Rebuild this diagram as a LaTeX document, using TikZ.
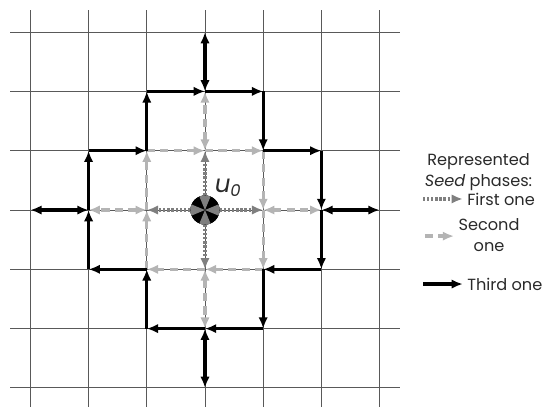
\documentclass[tikz,border=0pt]{standalone}
\usepackage{fontspec}
\setmainfont{Poppins}
\usetikzlibrary{arrows.meta}

\definecolor{gris1}{HTML}{7F7F7F}
\definecolor{gris2}{HTML}{B4B4B4}
\definecolor{texto}{HTML}{2A2A2A}

\begin{document}
\begin{tikzpicture}[
  x=1cm, y=1.019cm,
  >={Latex[length=5.5pt,width=4.6pt]},
  rejilla/.style={draw=black!65, line width=0.45pt},
  fase1/.style={draw=gris1, line width=1.6pt, dash pattern=on 1.1pt off 0.9pt, ->},
  fase2/.style={draw=gris2, line width=1.6pt, dash pattern=on 4pt off 2.6pt, ->},
  fase3/.style={draw=black, line width=1.5pt, ->},
  semilla/.style={circle, fill=black, inner sep=0pt, minimum size=5mm},
  leyenda/.style={text=texto, font=\fontsize{7.9}{10.4}\selectfont, inner sep=2pt}
]
  \useasboundingbox (-3.522,-3.305) rectangle (5.825,3.541);

  % Rejilla
  \foreach \k in {-3,...,3} {
    \draw[rejilla] (-3.35,\k) -- (3.35,\k);
    \draw[rejilla] (\k,-3.4) -- (\k,3.37);
  }

  % Puntos de la rejilla
  \foreach \i in {-3,...,3}
    \foreach \j in {-3,...,3}
      \coordinate (p\i\j) at (\i,\j);

  % Primera fase
  \node[semilla] (u0) at (p00) {};
  \foreach \b in {10,01,-10,0-1}
    \draw[fase1] (u0) -- (p\b);

  % Segunda fase
  \foreach \a/\b in {-11/01, 01/11, 11/10, 10/1-1, 1-1/0-1, 0-1/-1-1, -1-1/-10, -10/-11}
    \draw[fase2] (p\a) -- (p\b);
  \foreach \a/\b in {10/20, 01/02, -10/-20, 0-1/0-2}
    \draw[fase2, <->] (p\a) -- (p\b);

  % Tercera fase
  \foreach \a/\b in {-11/-12, -12/02, 02/12, 12/11, 11/21, 21/20, 20/2-1, 2-1/1-1,
                     1-1/1-2, 1-2/0-2, 0-2/-1-2, -1-2/-1-1, -1-1/-2-1, -2-1/-20, -20/-21, -21/-11}
    \draw[fase3] (p\a) -- (p\b);
  \foreach \a/\b in {20/30, 02/03, -20/-30, 0-2/0-3}
    \draw[fase3, <->] (p\a) -- (p\b);

  % Semilla u_0
  \node[semilla] at (u0) {};
  \foreach \a in {0,90,180,270}
    \fill[gris1] (u0.center) -- ++({\a-22.5}:2.5mm) arc[start angle=\a-22.5, end angle=\a+22.5, radius=2.5mm] -- cycle;
  \node[text=texto, font=\fontsize{12}{14}\selectfont] (lu0) at (0.40,0.38) {\textit{u\textsubscript{0}}};

  % Leyenda
  \node[leyenda, align=center] (titulo) at (4.70,0.64) {Represented\\\textit{Seed} phases:};
  \node[leyenda, anchor=west] (t1) at (4.43,0.186) {First one};
  \node[leyenda, align=center] (t2) at (4.88,-0.42) {Second\\one};
  \node[leyenda, anchor=west] (t3) at (4.43,-1.248) {Third one};
  \coordinate (c1) at (3.746,0.186);
  \coordinate (c2) at (3.78,-0.44);
  \coordinate (c3) at (3.746,-1.248);
  \draw[fase1] (c1) -- (t1.west);
  \draw[fase2] (c2) -- (c2 -| t2.west);
  \draw[fase3] (c3) -- (t3.west);
\end{tikzpicture}
\end{document}
